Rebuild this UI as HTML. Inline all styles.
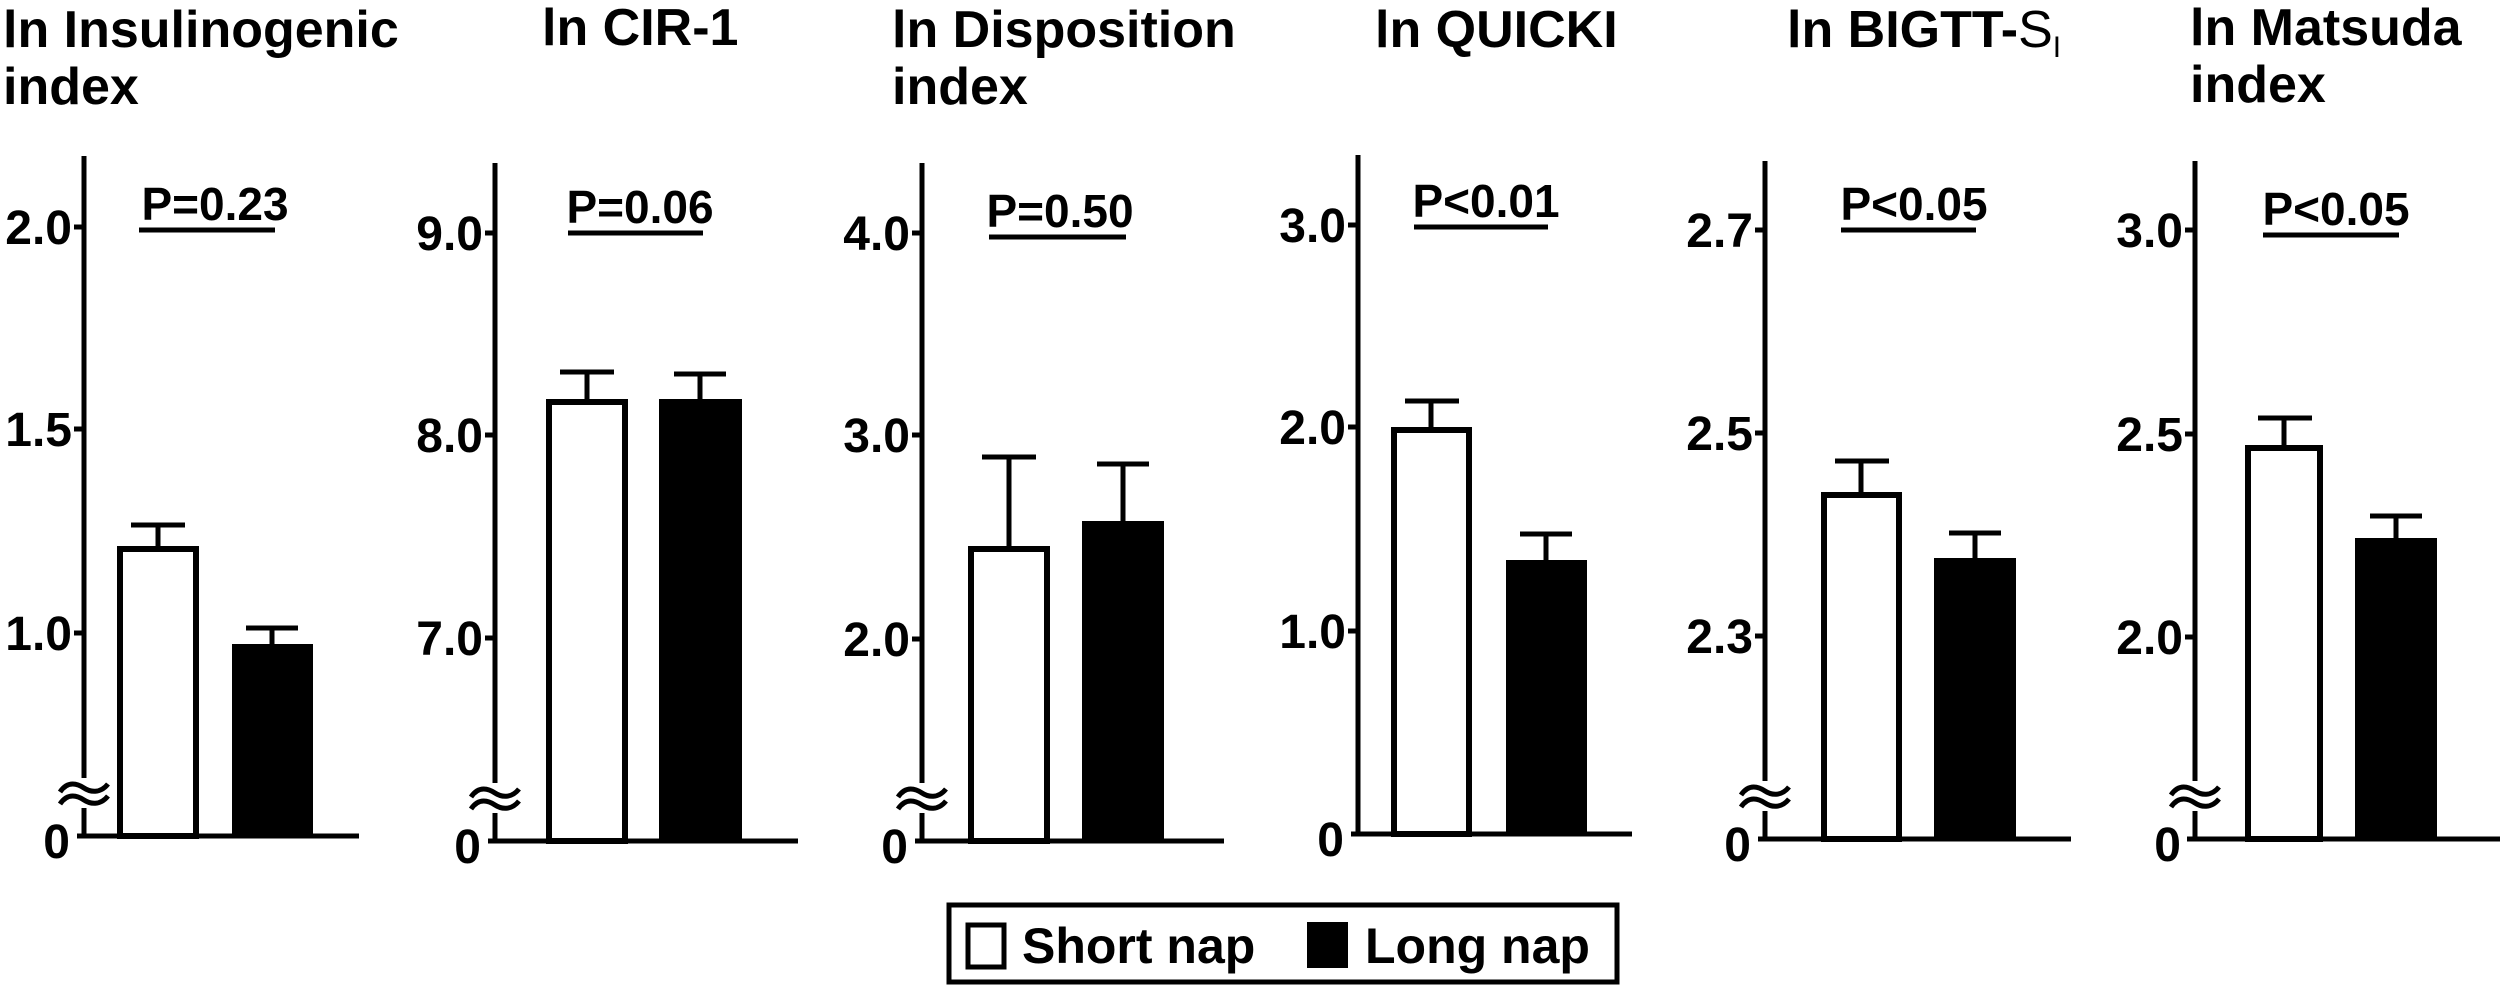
<!DOCTYPE html>
<html><head><meta charset="utf-8"><style>
html,body{margin:0;padding:0;background:#fff;}
svg{display:block;}
text{font-family:"Liberation Sans",Arial,sans-serif;font-weight:bold;fill:#000;}
</style></head><body>
<svg width="2500" height="989" viewBox="0 0 2500 989" xmlns="http://www.w3.org/2000/svg">
<defs>
<g id="wave">
<rect x="-6" y="-18" width="12" height="30" fill="#fff"/>
<path d="M-24,-4 C-16,-16 -6,-12 0,-8 C6,-4 16,-2 24,-12" fill="none" stroke="#000" stroke-width="5"/>
<path d="M-24,8 C-16,-4 -6,0 0,4 C6,8 16,10 24,0" fill="none" stroke="#000" stroke-width="5"/>
</g>
</defs>

<!-- Titles -->
<text x="3" y="47" font-size="52">ln Insulinogenic</text>
<text x="3" y="104" font-size="52">index</text>
<text x="542" y="45" font-size="52">ln CIR-1</text>
<text x="892" y="47" font-size="52">ln Disposition</text>
<text x="892" y="104" font-size="52">index</text>
<text x="1375" y="47" font-size="52">ln QUICKI</text>
<text x="1787" y="47" font-size="52">ln BIGTT-<tspan font-weight="normal">S</tspan><tspan font-weight="normal" font-size="30" dy="10">I</tspan></text>
<text x="2190" y="45" font-size="52">ln Matsuda</text>
<text x="2190" y="102" font-size="52">index</text>

<g stroke="#000" stroke-width="5" fill="none">
<!-- Panel 1 -->
<line x1="84" y1="156" x2="84" y2="838"/>
<line x1="77" y1="836" x2="359" y2="836"/>
<line x1="74" y1="227" x2="84" y2="227"/><line x1="74" y1="429" x2="84" y2="429"/><line x1="74" y1="633" x2="84" y2="633"/>
<line x1="139" y1="230" x2="275" y2="230"/>
<line x1="158" y1="546" x2="158" y2="525"/><line x1="131" y1="525" x2="185" y2="525"/>
<line x1="272" y1="644" x2="272" y2="628"/><line x1="246" y1="628" x2="298" y2="628"/>
<rect x="120" y="549" width="76" height="287" stroke-width="6" fill="#fff"/>
<rect x="232" y="644" width="81" height="192" fill="#000" stroke="none"/>

<!-- Panel 2 -->
<line x1="495" y1="163" x2="495" y2="843"/>
<line x1="488" y1="841" x2="798" y2="841"/>
<line x1="485" y1="233" x2="495" y2="233"/><line x1="485" y1="435" x2="495" y2="435"/><line x1="485" y1="638" x2="495" y2="638"/>
<line x1="568" y1="233" x2="703" y2="233"/>
<line x1="587" y1="399" x2="587" y2="372"/><line x1="560" y1="372" x2="614" y2="372"/>
<line x1="700" y1="399" x2="700" y2="374"/><line x1="674" y1="374" x2="726" y2="374"/>
<rect x="549" y="402" width="76" height="439" stroke-width="6" fill="#fff"/>
<rect x="659" y="399" width="83" height="442" fill="#000" stroke="none"/>

<!-- Panel 3 -->
<line x1="922" y1="163" x2="922" y2="843"/>
<line x1="915" y1="841" x2="1224" y2="841"/>
<line x1="912" y1="233" x2="922" y2="233"/><line x1="912" y1="435" x2="922" y2="435"/><line x1="912" y1="639" x2="922" y2="639"/>
<line x1="989" y1="237" x2="1126" y2="237"/>
<line x1="1009" y1="546" x2="1009" y2="457"/><line x1="982" y1="457" x2="1036" y2="457"/>
<line x1="1123" y1="521" x2="1123" y2="464"/><line x1="1097" y1="464" x2="1149" y2="464"/>
<rect x="971" y="549" width="76" height="292" stroke-width="6" fill="#fff"/>
<rect x="1082" y="521" width="82" height="320" fill="#000" stroke="none"/>

<!-- Panel 4 -->
<line x1="1358" y1="155" x2="1358" y2="836"/>
<line x1="1351" y1="834" x2="1632" y2="834"/>
<line x1="1348" y1="225" x2="1358" y2="225"/><line x1="1348" y1="427" x2="1358" y2="427"/><line x1="1348" y1="631" x2="1358" y2="631"/>
<line x1="1414" y1="227" x2="1548" y2="227"/>
<line x1="1431" y1="427" x2="1431" y2="401"/><line x1="1405" y1="401" x2="1459" y2="401"/>
<line x1="1546" y1="560" x2="1546" y2="534"/><line x1="1520" y1="534" x2="1572" y2="534"/>
<rect x="1394" y="430" width="75" height="404" stroke-width="6" fill="#fff"/>
<rect x="1506" y="560" width="81" height="274" fill="#000" stroke="none"/>

<!-- Panel 5 -->
<line x1="1765" y1="161" x2="1765" y2="841"/>
<line x1="1758" y1="839" x2="2071" y2="839"/>
<line x1="1755" y1="230" x2="1765" y2="230"/><line x1="1755" y1="433" x2="1765" y2="433"/><line x1="1755" y1="636" x2="1765" y2="636"/>
<line x1="1841" y1="230" x2="1976" y2="230"/>
<line x1="1861" y1="492" x2="1861" y2="461"/><line x1="1835" y1="461" x2="1889" y2="461"/>
<line x1="1975" y1="558" x2="1975" y2="533"/><line x1="1949" y1="533" x2="2001" y2="533"/>
<rect x="1824" y="495" width="75" height="344" stroke-width="6" fill="#fff"/>
<rect x="1934" y="558" width="82" height="281" fill="#000" stroke="none"/>

<!-- Panel 6 -->
<line x1="2195" y1="161" x2="2195" y2="841"/>
<line x1="2187" y1="839" x2="2500" y2="839"/>
<line x1="2185" y1="230" x2="2195" y2="230"/><line x1="2185" y1="434" x2="2195" y2="434"/><line x1="2185" y1="637" x2="2195" y2="637"/>
<line x1="2263" y1="235" x2="2399" y2="235"/>
<line x1="2284" y1="445" x2="2284" y2="418"/><line x1="2258" y1="418" x2="2312" y2="418"/>
<line x1="2396" y1="538" x2="2396" y2="516"/><line x1="2370" y1="516" x2="2422" y2="516"/>
<rect x="2248" y="448" width="72" height="391" stroke-width="6" fill="#fff"/>
<rect x="2355" y="538" width="82" height="301" fill="#000" stroke="none"/>

<!-- Legend -->
<rect x="949" y="905" width="668" height="77" stroke-width="5" fill="#fff"/>
<rect x="968" y="925" width="36" height="42" stroke-width="5" fill="#fff"/>
<rect x="1307" y="922" width="41" height="46" fill="#000" stroke="none"/>
</g>

<!-- Waves -->
<use href="#wave" x="84" y="796"/>
<use href="#wave" x="495" y="801"/>
<use href="#wave" x="922" y="801"/>
<use href="#wave" x="1765" y="799"/>
<use href="#wave" x="2195" y="799"/>

<!-- Tick labels -->
<g font-size="48" text-anchor="end">
<text x="72" y="244">2.0</text><text x="72" y="446">1.5</text><text x="72" y="650">1.0</text><text x="70" y="858">0</text>
<text x="483" y="250">9.0</text><text x="483" y="452">8.0</text><text x="483" y="655">7.0</text><text x="481" y="863">0</text>
<text x="910" y="250">4.0</text><text x="910" y="452">3.0</text><text x="910" y="656">2.0</text><text x="908" y="863">0</text>
<text x="1346" y="242">3.0</text><text x="1346" y="444">2.0</text><text x="1346" y="648">1.0</text><text x="1344" y="856">0</text>
<text x="1753" y="247">2.7</text><text x="1753" y="450">2.5</text><text x="1753" y="653">2.3</text><text x="1751" y="861">0</text>
<text x="2183" y="247">3.0</text><text x="2183" y="451">2.5</text><text x="2183" y="654">2.0</text><text x="2181" y="861">0</text>
</g>

<!-- P values -->
<g font-size="46" text-anchor="middle">
<text x="215" y="220">P=0.23</text>
<text x="640" y="223">P=0.06</text>
<text x="1060" y="227">P=0.50</text>
<text x="1486" y="217">P&lt;0.01</text>
<text x="1914" y="220">P&lt;0.05</text>
<text x="2336" y="225">P&lt;0.05</text>
</g>

<!-- Legend text -->
<text x="1022" y="963" font-size="50">Short nap</text>
<text x="1365" y="963" font-size="50">Long nap</text>
</svg>
</body></html>
